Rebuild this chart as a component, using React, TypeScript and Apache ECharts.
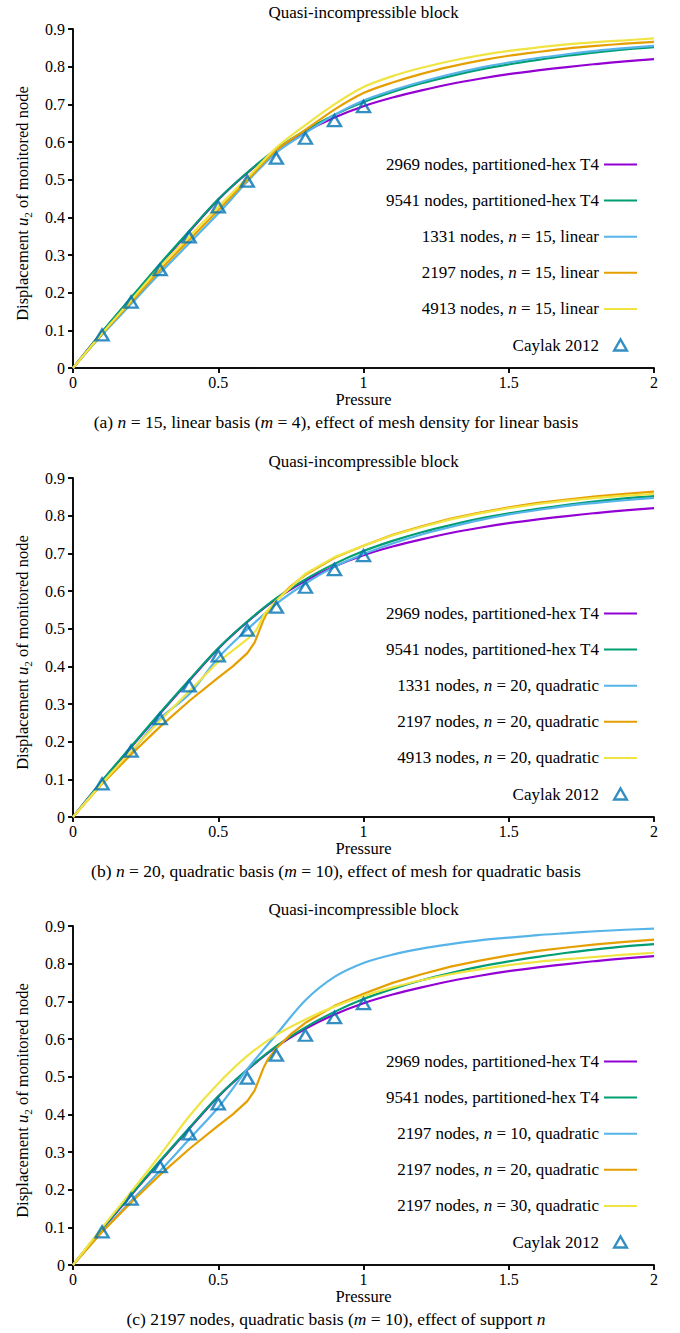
import React, { useEffect, useRef } from "react";
import * as echarts from "echarts";

const SERIF = "Liberation Serif";

// Pressure samples shared by most curves
const pressure = [0, 0.1, 0.2, 0.3, 0.4, 0.5, 0.6, 0.7, 0.8, 0.9, 1.0, 1.1, 1.2, 1.3, 1.4, 1.5, 1.6, 1.7, 1.8, 1.9, 2.0];

// Partitioned-hex T4 reference meshes (same in every panel)
const hexT4Nodes2969 = [0, 0.095, 0.185, 0.275, 0.362, 0.447, 0.518, 0.579, 0.627, 0.665, 0.695, 0.718, 0.737, 0.754, 0.768, 0.78, 0.79, 0.799, 0.807, 0.814, 0.82];
const hexT4Nodes9541 = [0, 0.096, 0.187, 0.277, 0.364, 0.448, 0.519, 0.581, 0.631, 0.672, 0.706, 0.733, 0.756, 0.775, 0.792, 0.806, 0.818, 0.829, 0.838, 0.846, 0.852];

// (a) n = 15, linear basis
const linearN15Nodes1331 = [0, 0.088, 0.17, 0.252, 0.331, 0.41, 0.495, 0.572, 0.624, 0.672, 0.71, 0.737, 0.76, 0.78, 0.797, 0.811, 0.823, 0.833, 0.842, 0.849, 0.855];
const linearN15Nodes2197 = [0, 0.09, 0.175, 0.26, 0.34, 0.419, 0.499, 0.578, 0.632, 0.686, 0.73, 0.758, 0.781, 0.8, 0.816, 0.829, 0.839, 0.848, 0.855, 0.861, 0.866];
const linearN15Nodes4913 = [0, 0.092, 0.18, 0.269, 0.349, 0.428, 0.505, 0.585, 0.645, 0.7, 0.746, 0.775, 0.797, 0.815, 0.83, 0.842, 0.851, 0.859, 0.865, 0.87, 0.875];

// (b) n = 20, quadratic basis
const quadN20Nodes1331 = [0, 0.09, 0.172, 0.262, 0.326, 0.423, 0.498, 0.566, 0.62, 0.664, 0.698, 0.726, 0.75, 0.77, 0.788, 0.803, 0.815, 0.826, 0.834, 0.841, 0.847];
const pressureQuadN20Nodes2197 = [0, 0.1, 0.2, 0.3, 0.4, 0.5, 0.55, 0.6, 0.625, 0.64, 0.655, 0.67, 0.7, 0.75, 0.8, 0.9, 1.0, 1.1, 1.2, 1.3, 1.4, 1.5, 1.6, 1.7, 1.8, 1.9, 2.0];
const quadN20Nodes2197 = [0, 0.088, 0.166, 0.24, 0.308, 0.37, 0.4, 0.435, 0.463, 0.492, 0.522, 0.545, 0.575, 0.613, 0.643, 0.688, 0.72, 0.749, 0.772, 0.792, 0.808, 0.822, 0.834, 0.843, 0.851, 0.858, 0.864];
const pressureQuadN20Nodes4913 = [0, 0.1, 0.2, 0.3, 0.4, 0.5, 0.6, 0.63, 0.66, 0.7, 0.8, 0.9, 1.0, 1.1, 1.2, 1.3, 1.4, 1.5, 1.6, 1.7, 1.8, 1.9, 2.0];
const quadN20Nodes4913 = [0, 0.09, 0.175, 0.256, 0.334, 0.412, 0.472, 0.495, 0.54, 0.574, 0.646, 0.69, 0.72, 0.748, 0.77, 0.79, 0.806, 0.82, 0.831, 0.84, 0.847, 0.853, 0.858];

// (c) 2197 nodes, quadratic basis, varying support n
const quadN10Nodes2197 = [0, 0.088, 0.17, 0.25, 0.334, 0.418, 0.52, 0.612, 0.703, 0.765, 0.802, 0.824, 0.84, 0.852, 0.862, 0.869, 0.876, 0.881, 0.886, 0.89, 0.893];
const quadN30Nodes2197 = [0, 0.099, 0.194, 0.292, 0.395, 0.482, 0.555, 0.611, 0.652, 0.686, 0.714, 0.737, 0.756, 0.772, 0.785, 0.796, 0.805, 0.812, 0.818, 0.824, 0.829];

// Caylak 2012 reference points
const caylakPressure = [0.1, 0.2, 0.3, 0.4, 0.5, 0.6, 0.7, 0.8, 0.9, 1.0];
const caylakDisplacement = [0.088, 0.175, 0.261, 0.348, 0.428, 0.496, 0.557, 0.61, 0.657, 0.694];

const yTickStep = 0.1;
const xTickStep = 0.5;

const VIOLET = "#9400d3";
const GREEN = "#009e73";
const SKY = "#56b4e9";
const ORANGE = "#e69f00";
const YELLOW = "#f0e442";
const BLUE = "#0072b2";

const T4_COARSE = "2969 nodes, partitioned-hex T4";
const T4_FINE = "9541 nodes, partitioned-hex T4";
const CAYLAK = "Caylak 2012";

type Curve = { name: string; xs: number[]; ys: number[]; color: string; smooth: number | boolean };

const panels: { curves: Curve[]; caption: string }[] = [
  {
    curves: [
      { name: T4_COARSE, xs: pressure, ys: hexT4Nodes2969, color: VIOLET, smooth: 0.3 },
      { name: T4_FINE, xs: pressure, ys: hexT4Nodes9541, color: GREEN, smooth: 0.3 },
      { name: "1331 nodes, n = 15, linear", xs: pressure, ys: linearN15Nodes1331, color: SKY, smooth: 0.3 },
      { name: "2197 nodes, n = 15, linear", xs: pressure, ys: linearN15Nodes2197, color: ORANGE, smooth: 0.3 },
      { name: "4913 nodes, n = 15, linear", xs: pressure, ys: linearN15Nodes4913, color: YELLOW, smooth: 0.3 },
    ],
    caption: "(a) {i|n} = 15, linear basis ({i|m} = 4), effect of mesh density for linear basis",
  },
  {
    curves: [
      { name: T4_COARSE, xs: pressure, ys: hexT4Nodes2969, color: VIOLET, smooth: 0.3 },
      { name: T4_FINE, xs: pressure, ys: hexT4Nodes9541, color: GREEN, smooth: 0.3 },
      { name: "1331 nodes, n = 20, quadratic", xs: pressure, ys: quadN20Nodes1331, color: SKY, smooth: 0.3 },
      { name: "2197 nodes, n = 20, quadratic", xs: pressureQuadN20Nodes2197, ys: quadN20Nodes2197, color: ORANGE, smooth: false },
      { name: "4913 nodes, n = 20, quadratic", xs: pressureQuadN20Nodes4913, ys: quadN20Nodes4913, color: YELLOW, smooth: false },
    ],
    caption: "(b) {i|n} = 20, quadratic basis ({i|m} = 10), effect of mesh for quadratic basis",
  },
  {
    curves: [
      { name: T4_COARSE, xs: pressure, ys: hexT4Nodes2969, color: VIOLET, smooth: 0.3 },
      { name: T4_FINE, xs: pressure, ys: hexT4Nodes9541, color: GREEN, smooth: 0.3 },
      { name: "2197 nodes, n = 10, quadratic", xs: pressure, ys: quadN10Nodes2197, color: SKY, smooth: 0.3 },
      { name: "2197 nodes, n = 20, quadratic", xs: pressureQuadN20Nodes2197, ys: quadN20Nodes2197, color: ORANGE, smooth: false },
      { name: "2197 nodes, n = 30, quadratic", xs: pressure, ys: quadN30Nodes2197, color: YELLOW, smooth: 0.3 },
    ],
    caption: "(c) 2197 nodes, quadratic basis ({i|m} = 10), effect of support {i|n}",
  },
];

const PANEL_TOPS = [29, 478, 926];
const PLOT_H = 339;
const PLOT_LEFT = 73;
const PLOT_RIGHT = 654;
const PAGE_W = 680;

const zip = (xs: number[], ys: number[]) => xs.map((x, i) => [x, ys[i]]);

const black = { color: "#000", width: 1.5 };
const italic = { fontStyle: "italic", fontFamily: SERIF, fontSize: 17, color: "#000" };

function buildOption() {
  const grid: any[] = [];
  const xAxis: any[] = [];
  const yAxis: any[] = [];
  const series: any[] = [];
  const legend: any[] = [];
  const graphic: any[] = [];

  panels.forEach((panel, k) => {
    const top = PANEL_TOPS[k];
    grid.push({ left: PLOT_LEFT, width: PLOT_RIGHT - PLOT_LEFT, top, height: PLOT_H });

    const tickLabel = { color: "#000", fontFamily: SERIF, fontSize: 16 };
    xAxis.push({
      gridIndex: k, type: "value", min: 0, max: 2, interval: xTickStep, position: "bottom",
      name: "Pressure", nameLocation: "middle", nameGap: 22,
      nameTextStyle: { color: "#000", fontFamily: SERIF, fontSize: 16.5 },
      axisLine: { lineStyle: black }, axisTick: { inside: false, length: 5, lineStyle: black },
      axisLabel: { ...tickLabel, margin: 6 }, splitLine: { show: false },
    });
    xAxis.push({
      gridIndex: k, type: "value", min: 0, max: 2, interval: xTickStep, position: "top",
      axisLine: { lineStyle: black }, axisTick: { inside: true, length: 5, lineStyle: black },
      axisLabel: { show: false }, splitLine: { show: false },
    });
    yAxis.push({
      gridIndex: k, type: "value", min: 0, max: 0.9, interval: yTickStep, position: "left",
      axisLine: { lineStyle: black }, axisTick: { inside: false, length: 5, lineStyle: black },
      axisLabel: { ...tickLabel, margin: 8 }, splitLine: { show: false },
    });
    yAxis.push({
      gridIndex: k, type: "value", min: 0, max: 0.9, interval: yTickStep, position: "right",
      axisLine: { lineStyle: black }, axisTick: { inside: true, length: 5, lineStyle: black },
      axisLabel: { show: false }, splitLine: { show: false },
    });

    panel.curves.forEach((c) => {
      series.push({
        type: "line", name: c.name, xAxisIndex: 2 * k, yAxisIndex: 2 * k,
        data: zip(c.xs, c.ys), showSymbol: false, symbol: "none", smooth: c.smooth,
        lineStyle: { color: c.color, width: 2.2 }, itemStyle: { color: c.color },
        emphasis: { disabled: true },
      });
    });
    series.push({
      type: "scatter", name: CAYLAK, xAxisIndex: 2 * k, yAxisIndex: 2 * k,
      data: zip(caylakPressure, caylakDisplacement), symbol: "triangle", symbolSize: [13, 11],
      itemStyle: { color: "rgba(255,255,255,0)", borderColor: BLUE, borderWidth: 2.4 },
      emphasis: { disabled: true }, z: 5,
    });

    legend.push({
      orient: "vertical", align: "right", right: PAGE_W - 638, top: top + 127,
      itemWidth: 33, itemHeight: 11, itemGap: 19.1, padding: 0, selectedMode: false,
      symbolKeepAspect: true,
      textStyle: { color: "#000", fontFamily: SERIF, fontSize: 17, rich: { i: italic } },
      formatter: (name: string) => name.replace(/ n = /, " {i|n} = "),
      data: [
        ...panel.curves.map((c) => ({ name: c.name, itemStyle: { opacity: 0 } })),
        {
          name: CAYLAK, icon: "path://M0,10L5.8,0L11.6,10Z",
          itemStyle: { color: "rgba(255,255,255,0)", borderColor: BLUE, borderWidth: 2.4 },
        },
      ],
    });

    // panel title
    graphic.push({
      type: "text", x: (PLOT_LEFT + PLOT_RIGHT) / 2, y: top - 17,
      style: { text: "Quasi-incompressible block", fontFamily: SERIF, fontSize: 17, fill: "#000", align: "center", verticalAlign: "middle" },
    });
    // vertical axis title
    graphic.push({
      type: "text", x: 22, y: top + PLOT_H / 2 + 5, rotation: Math.PI / 2,
      style: {
        text: "Displacement {i|u}{sub|2} of monitored node", fontFamily: SERIF, fontSize: 16.5, fill: "#000",
        align: "center", verticalAlign: "middle", lineHeight: 22,
        rich: {
          i: { fontStyle: "italic", fontFamily: SERIF, fontSize: 16.5, fill: "#000", lineHeight: 22 },
          sub: { fontFamily: SERIF, fontSize: 11, fill: "#000", lineHeight: 12, verticalAlign: "bottom" },
        },
      },
    });
    // sub-figure caption
    graphic.push({
      type: "text", x: 336, y: top + PLOT_H + 54,
      style: {
        text: panel.caption, fontFamily: SERIF, fontSize: 17.5, fill: "#000", align: "center", verticalAlign: "middle",
        rich: { i: { fontStyle: "italic", fontFamily: SERIF, fontSize: 17.5, fill: "#000" } },
      },
    });
  });

  return { animation: false, backgroundColor: "#fff", grid, xAxis, yAxis, series, legend, graphic };
}

export default function App() {
  const ref = useRef<HTMLDivElement>(null);
  useEffect(() => {
    if (!ref.current) return;
    const chart = echarts.init(ref.current, undefined, { renderer: "svg" });
    chart.setOption(buildOption() as any);
    return () => chart.dispose();
  }, []);
  return <div ref={ref} style={{ position: "absolute", left: 0, top: 0, width: 680, height: 1333 }} />;
}
